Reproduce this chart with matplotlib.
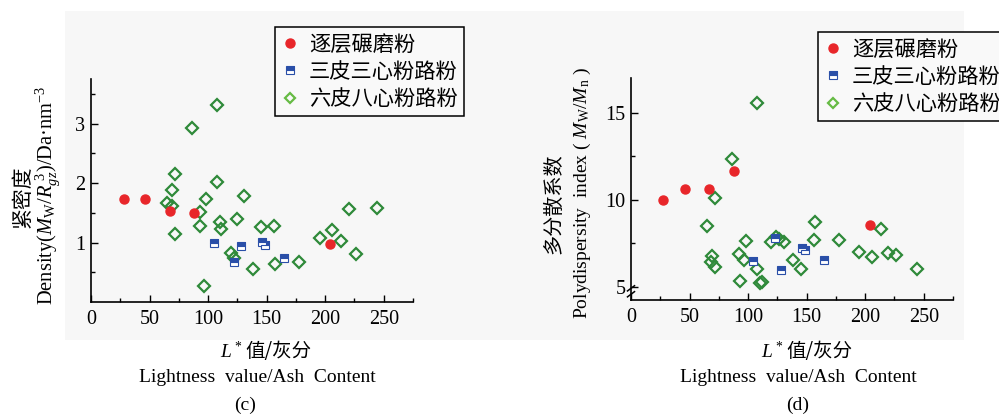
import matplotlib
matplotlib.use('Agg')
import matplotlib.pyplot as plt
from matplotlib.lines import Line2D
from matplotlib.patches import Rectangle

plt.rcParams['font.family'] = ['Liberation Serif', 'Noto Sans CJK SC']
plt.rcParams['mathtext.fontset'] = 'custom'
plt.rcParams['mathtext.rm'] = 'Liberation Serif'
plt.rcParams['mathtext.it'] = 'Liberation Serif:italic'

# (c) density vs lightness/ash
c_red_x = [27.9, 46.1, 67.2, 88.0, 204.4]
c_red_y = [1.74, 1.73, 1.53, 1.50, 0.97]
c_blue_x = [104.8, 122.2, 128.1, 145.8, 148.3, 164.9]
c_blue_y = [0.99, 0.68, 0.94, 1.01, 0.96, 0.74]
c_green_x = [86.3, 107.3, 72.0, 69.2, 107.9, 64.9, 69.2, 97.9, 130.7, 92.8,
             72.0, 93.1, 109.9, 111.3, 124.7, 145.2, 156.3, 119.3, 122.2, 138.1,
             157.2, 178.0, 96.2, 195.3, 205.6, 213.3, 220.1, 226.1, 244.3]
c_green_y = [2.92, 3.31, 2.16, 1.88, 2.01, 1.66, 1.62, 1.74, 1.79, 1.51,
             1.15, 1.27, 1.34, 1.23, 1.40, 1.26, 1.27, 0.83, 0.74, 0.56,
             0.64, 0.67, 0.27, 1.07, 1.21, 1.02, 1.56, 0.80, 1.58]

# (d) polydispersity vs lightness/ash
d_red_x = [27.7, 46.2, 67.0, 88.1, 204.4]
d_red_y = [10.02, 10.63, 10.65, 11.67, 8.54]
d_blue_x = [104.3, 123.1, 128.0, 145.9, 148.2, 164.5]
d_blue_y = [6.48, 7.81, 5.97, 7.26, 7.15, 6.56]
d_green_x = [107.2, 86.1, 72.1, 65.0, 69.0, 68.7, 72.1, 97.8, 92.4, 96.1,
             93.2, 107.5, 110.3, 111.5, 119.2, 124.0, 126.0, 130.8, 138.3, 144.8,
             155.9, 157.4, 177.9, 195.0, 205.8, 213.8, 219.8, 226.4, 244.3]
d_green_y = [15.55, 12.32, 10.13, 8.48, 6.77, 6.43, 6.12, 7.66, 6.92, 6.56,
             5.36, 6.03, 5.25, 5.29, 7.60, 7.87, 7.76, 7.60, 6.52, 6.03,
             7.68, 8.75, 7.70, 7.03, 6.73, 8.35, 6.94, 6.81, 6.01]

labels = ['逐层碾磨粉', '三皮三心粉路粉', '六皮八心粉路粉']
red = '#e8262a'
blue = '#2a4fa8'
green = '#2f8a3a'
green_leg = '#66bb44'

W, H = 999, 417
fig = plt.figure(figsize=(9.99, 4.17), dpi=100, facecolor='white')
fig.patches.append(Rectangle((65 / W, 1 - 340 / H), (964 - 65) / W, (340 - 11) / H,
                             transform=fig.transFigure, facecolor='#f7f7f7',
                             edgecolor='none', zorder=-10))

def px(x, y):
    return x / W, 1 - y / H

def draw(ax, rx, ry, bx, by, gx, gy):
    ax.set_facecolor('none')
    ax.plot(gx, gy, 'D', ms=6.5, mfc='none', mec=green, mew=1.6, ls='none')
    ax.plot(bx, by, 's', ms=5.3, fillstyle='top', mfc=blue, mfcalt='white',
            mec=blue, mew=0.8, ls='none')
    ax.plot(rx, ry, 'o', ms=6.5, color=red, ls='none')
    for s in ['top', 'right']:
        ax.spines[s].set_visible(False)
    for s in ['left', 'bottom']:
        ax.spines[s].set_linewidth(1.2)
    ax.set_xlim(0, 275)
    ax.set_xticks([0, 50, 100, 150, 200, 250])
    ax.set_xticks(range(25, 276, 50), minor=True)
    ax.tick_params(which='both', direction='in', width=1, labelsize=14.5)
    ax.tick_params(which='major', length=5)
    ax.tick_params(which='minor', length=3)
    ax.tick_params(axis='x', pad=6)
    ax.tick_params(axis='y', pad=4)

handles = [
    Line2D([], [], marker='o', ms=6.5, color=red, ls='none'),
    Line2D([], [], marker='s', ms=5.3, fillstyle='top', mfc=blue, mfcalt='white',
           mec=blue, mew=0.8, ls='none'),
    Line2D([], [], marker='D', ms=5.5, mfc='none', mec=green_leg, mew=1.6, ls='none'),
]

# (c)
ax1 = fig.add_axes([91 / W, 1 - 302 / H, 322 / W, 223 / H])
draw(ax1, c_red_x, c_red_y, c_blue_x, c_blue_y, c_green_x, c_green_y)
ax1.set_ylim(0, 3.75)
ax1.set_yticks([1, 2, 3])
ax1.set_yticks([0.5, 1.5, 2.5, 3.5], minor=True)

# (d)
ax2 = fig.add_axes([631 / W, 1 - 300 / H, 322 / W, 222 / H])
draw(ax2, d_red_x, d_red_y, d_blue_x, d_blue_y, d_green_x, d_green_y)
ax2.set_ylim(4.25, 17)
ax2.set_yticks([5, 10, 15])
ax2.set_yticks([7.5, 12.5], minor=True)
# axis break mark
for dy in (-0.12, 0.22):
    ax2.plot([-3, 3], [4.55 + dy, 4.85 + dy], color='black', lw=1.1, clip_on=False)

for anchor in [(275, 27), (818, 32)]:
    leg = fig.legend(handles, labels, loc='upper left', bbox_to_anchor=px(*anchor),
                     bbox_transform=fig.transFigure, borderaxespad=0,
                     prop={'family': 'Noto Sans CJK SC', 'size': 15.3},
                     frameon=True, fancybox=False, framealpha=1,
                     facecolor='#f9f9f9', edgecolor='black',
                     handlelength=0.8, handletextpad=0.5, labelspacing=0.25,
                     borderpad=0.3)
    leg.get_frame().set_linewidth(1.1)

# y labels
fig.text(*px(23, 197), '紧密度', rotation=90, ha='center', va='center',
         fontsize=15, family='Noto Sans CJK SC')
fig.text(*px(48, 195), r'Density($M_\mathrm{W}/R_{gz}^{\ 3}$)/Da·nm$^{-3}$',
         rotation=90, ha='center', va='center', fontsize=14.8)
fig.text(*px(554, 204), '多分散系数', rotation=90, ha='center', va='center',
         fontsize=14.5, family='Noto Sans CJK SC')
fig.text(*px(582, 193), r'Polydispersity  index ( $M_\mathrm{W}/M_\mathrm{n}$ )',
         rotation=90, ha='center', va='center', fontsize=14)

# x labels and captions
for cx, cap_x, cap in [(257, 245, '(c)'), (798, 798, '(d)')]:
    fig.text(*px(cx - 14, 352), r'$L^*$', ha='right', va='center', fontsize=14)
    fig.text(*px(cx - 12, 352), '值/灰分', ha='left', va='center', fontsize=14,
             family=['Noto Sans CJK SC'])
    fig.text(*px(cx, 377), 'Lightness  value/Ash  Content', ha='center',
             va='center', fontsize=14)
    fig.text(*px(cap_x, 405), cap, ha='center', va='center', fontsize=14)

fig.savefig('out.png', dpi=100, facecolor='white')
